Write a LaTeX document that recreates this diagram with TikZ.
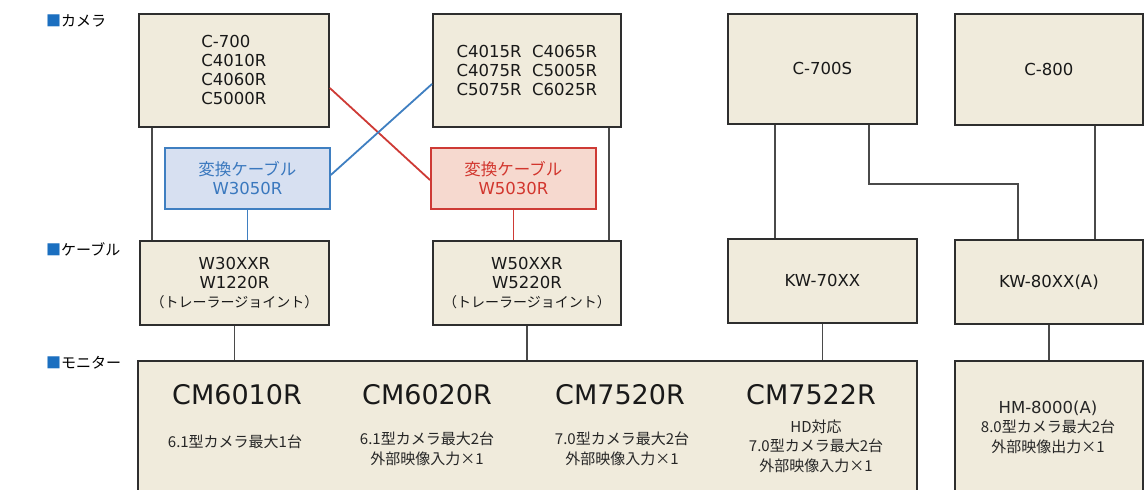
\documentclass[tikz,border=0pt]{standalone}
\usepackage{fontspec}
\setmainfont{DejaVu Sans}
\newfontfamily\jpfont{Noto Sans CJK JP}
\usetikzlibrary{calc}
\definecolor{beige}{HTML}{F0EBDC}
\definecolor{edge}{HTML}{2E2E2E}
\definecolor{wire}{HTML}{4A4A4A}
\definecolor{bline}{HTML}{3F7FC1}
\definecolor{bfill}{HTML}{D7E0F1}
\definecolor{btext}{HTML}{3A78BE}
\definecolor{rline}{HTML}{CE3A35}
\definecolor{rfill}{HTML}{F6D9CF}
\definecolor{rtext}{HTML}{D2362E}
\definecolor{lblsq}{HTML}{1B6FC0}
\tikzset{
  box/.style={draw=edge, fill=beige, line width=1.8pt, anchor=north west, inner sep=0pt,
    font=\fontsize{16.5}{19}\selectfont, text=black!90},
  convb/.style={draw=bline, fill=bfill, line width=1.8pt, anchor=north west, inner sep=0pt,
    text=btext, align=center, font=\fontsize{16.5}{19}\selectfont},
  convr/.style={draw=rline, fill=rfill, line width=1.8pt, anchor=north west, inner sep=0pt,
    text=rtext, align=center, font=\fontsize{16.5}{19}\selectfont},
  conn/.style={draw=wire, line width=1.8pt},
  bconn/.style={draw=bline, line width=1.8pt},
  rconn/.style={draw=rline, line width=1.8pt},
  cat/.style={anchor=west, inner sep=0pt, font=\jpfont\fontsize{15}{17}\selectfont},
  mtitle/.style={inner sep=0pt, font=\fontsize{27}{30}\selectfont, text=black!90},
  msub/.style={inner sep=0pt, align=center, font=\jpfont\fontsize{15}{19.5}\selectfont, text=black!85},
}
\begin{document}
\begin{tikzpicture}[x=1pt,y=-1pt]
\useasboundingbox (0,0) rectangle (1144,490);
\clip (0,0) rectangle (1144,490);
\fill[white] (0,0) rectangle (1144,490);

% category labels
\node[cat] (lcam) at (46,21) {\textcolor{lblsq}{■}カメラ};
\node[cat] (lcab) at (46,249) {\textcolor{lblsq}{■}ケーブル};
\node[cat] (lmon) at (46,363) {\textcolor{lblsq}{■}モニター};

% cameras
\node[box, minimum width=190pt, minimum height=113pt, align=left] (camA) at (138,13)
  {C-700\\C4010R\\C4060R\\C5000R};
\node[box, minimum width=188pt, minimum height=113pt, align=left] (camB) at (432,13)
  {C4015R\ \ C4065R\\C4075R\ \ C5005R\\C5075R\ \ C6025R};
\node[box, minimum width=189pt, minimum height=110pt] (camC) at (727,13) {C-700S};
\node[box, minimum width=188pt, minimum height=111pt] (camD) at (954,13) {C-800};

% conversion cables
\node[convb, minimum width=165pt, minimum height=61pt] (convB) at (164,147)
  {{\jpfont 変換ケーブル}\\W3050R};
\node[convr, minimum width=165pt, minimum height=61pt] (convR) at (430,147)
  {{\jpfont 変換ケーブル}\\W5030R};

% cables
\node[box, minimum width=189pt, minimum height=84pt, align=center] (cabA) at (139,240)
  {W30XXR\\W1220R\\{\jpfont\fontsize{14}{19}\selectfont （トレーラージョイント）}};
\node[box, minimum width=188pt, minimum height=84pt, align=center] (cabB) at (432,240)
  {W50XXR\\W5220R\\{\jpfont\fontsize{14}{19}\selectfont （トレーラージョイント）}};
\node[box, minimum width=189pt, minimum height=84pt] (kw70) at (727,238) {KW-70XX};
\node[box, minimum width=188pt, minimum height=84pt] (kw80) at (954,239) {KW-80XX(A)};

% monitors
\node[box, minimum width=779pt, minimum height=150pt] (mon) at (137,360) {};
\node[box, minimum width=188pt, minimum height=150pt] (hm) at (954,360) {};

\node[mtitle] (m1t) at (237,395) {CM6010R};
\node[mtitle] (m2t) at (427,395) {CM6020R};
\node[mtitle] (m3t) at (620,395) {CM7520R};
\node[mtitle] (m4t) at (811,395) {CM7522R};
\node[msub] (m1s) at (235,442) {6.1型カメラ最大1台};
\node[msub] (m2s) at (427,449) {6.1型カメラ最大2台\\外部映像入力×1};
\node[msub] (m3s) at (622,449) {7.0型カメラ最大2台\\外部映像入力×1};
\node[msub] (m4s) at (816,446) {HD対応\\7.0型カメラ最大2台\\外部映像入力×1};
\node[msub] (hms) at (1048,427) {{\fontspec{DejaVu Sans}\fontsize{16.5}{19.5}\selectfont HM-8000(A)}\\8.0型カメラ最大2台\\外部映像出力×1};

% connectors
\draw[conn] ([xshift=14pt]camA.south west) -- ([xshift=14pt]camA.south west |- cabA.north);
\draw[rconn] ([yshift=-75pt]camA.north east) -- ([yshift=-33pt]convR.north west);
\draw[bconn] ([yshift=-28pt]convB.north east) -- ([yshift=-71pt]camB.north west);
\draw[bconn] (convB.south) -- (convB.south |- cabA.north);
\draw[rconn] (convR.south) -- (convR.south |- cabB.north);
\draw[conn] ([xshift=-13pt]camB.south east) -- ([xshift=-13pt]camB.south east |- cabB.north);
\draw[conn] ([xshift=48pt]camC.south west) -- ([xshift=48pt]camC.south west |- kw70.north);
\draw[conn] ([xshift=-49pt]camC.south east) -- ++(0,59) -| ([xshift=64pt]kw80.north west);
\draw[conn] ([xshift=141pt]camD.south west) -- ([xshift=141pt]camD.south west |- kw80.north);
\draw[conn] (cabA.south) -- (cabA.south |- mon.north);
\draw[conn] (cabB.south) -- (cabB.south |- mon.north);
\draw[conn] (kw70.south) -- (kw70.south |- mon.north);
\draw[conn] (kw80.south) -- (kw80.south |- hm.north);
\end{tikzpicture}
\end{document}
